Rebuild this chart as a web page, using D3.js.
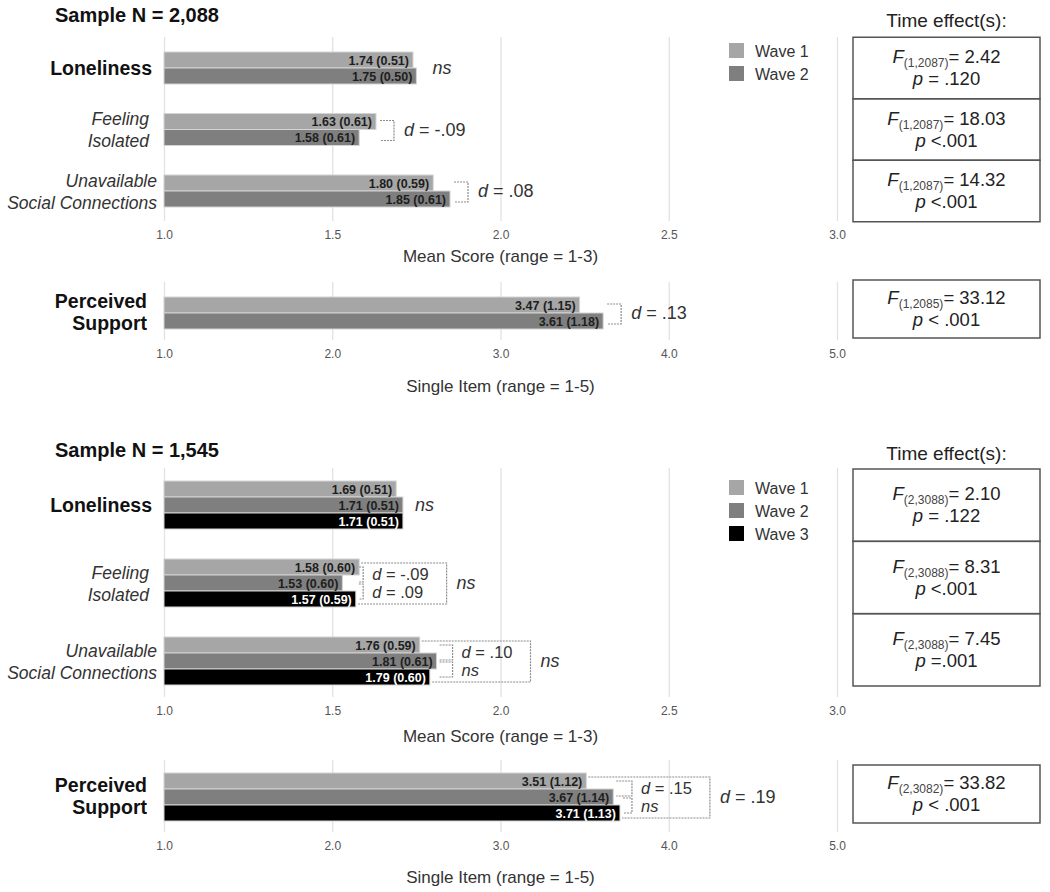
<!DOCTYPE html>
<html><head><meta charset="utf-8">
<script src="https://cdn.jsdelivr.net/npm/d3@7"></script>
<style>body{margin:0;background:#fff} svg{display:block;font-family:"Liberation Sans",Arial,sans-serif}</style>
</head><body><svg id="c" width="1050" height="892"></svg>
<script>
// ---------- data ----------
const waveNames = ["Wave 1", "Wave 2", "Wave 3"];
const waveColors = ["#a6a6a6", "#7f7f7f", "#000000"];
const categoryLines = [["Loneliness"], ["Feeling", "Isolated"], ["Unavailable", "Social Connections"]];
const supportLines = ["Perceived", "Support"];
const meanTicks = [1.0, 1.5, 2.0, 2.5, 3.0];
const supportTicks = [1, 2, 3, 4, 5];
const meanAxisTitle = "Mean Score (range = 1-3)";
const supportAxisTitle = "Single Item (range = 1-5)";
const effectsHeader = "Time effect(s):";

const sample1Title = "Sample N = 2,088";
const sample1Means = [[1.74, 1.75], [1.63, 1.58], [1.80, 1.85]];
const sample1SDs = [[0.51, 0.50], [0.61, 0.61], [0.59, 0.61]];
const sample1SupportMeans = [3.47, 3.61];
const sample1SupportSDs = [1.15, 1.18];
const sample1Overall = ["ns", null, null];
const sample1Pairs = [[], [[0, 1, "d = -.09"]], [[0, 1, "d = .08"]]];
const sample1SupportPairs = [[0, 1, "d = .13"]];
const sample1Df = ["1,2087", "1,2087", "1,2087", "1,2085"];
const sample1F = ["2.42", "18.03", "14.32", "33.12"];
const sample1P = ["p = .120", "p <.001", "p <.001", "p < .001"];

const sample2Title = "Sample N = 1,545";
const sample2Means = [[1.69, 1.71, 1.71], [1.58, 1.53, 1.57], [1.76, 1.81, 1.79]];
const sample2SDs = [[0.51, 0.51, 0.51], [0.60, 0.60, 0.59], [0.59, 0.61, 0.60]];
const sample2SupportMeans = [3.51, 3.67, 3.71];
const sample2SupportSDs = [1.12, 1.14, 1.13];
const sample2Overall = ["ns", "ns", "ns"];
const sample2Pairs = [[], [[0, 1, "d = -.09"], [1, 2, "d = .09"]], [[0, 1, "d = .10"], [1, 2, "ns"]]];
const sample2SupportPairs = [[0, 1, "d = .15"], [1, 2, "ns"]];
const sample2SupportOverall = "d = .19";
const sample2Df = ["2,3088", "2,3088", "2,3088", "2,3082"];
const sample2F = ["2.10", "8.31", "7.45", "33.82"];
const sample2P = ["p = .122", "p <.001", "p =.001", "p < .001"];

// ---------- drawing ----------
const svg = d3.select("#c");
const xMean = d3.scaleLinear().domain([1, 3]).range([164, 837]);
const xSup = d3.scaleLinear().domain([1, 5]).range([164, 837]);
const fmt1 = d3.format(".1f"), fmt2 = d3.format(".2f");

function gridAxis(x, ticks, yTop, yAxis, title, titleY) {
  const g = svg.append("g").attr("transform", `translate(0,${yAxis})`);
  g.call(d3.axisBottom(x).tickValues(ticks).tickFormat(fmt1).tickSize(-(yAxis - yTop)).tickPadding(9));
  g.select(".domain").remove();
  g.selectAll(".tick line").attr("stroke", "#e2e2e2").attr("stroke-width", 1.3);
  g.selectAll(".tick text").attr("fill", "#555").attr("font-size", 12).attr("font-family", '"Liberation Sans",Arial,sans-serif');
  svg.append("text").attr("x", d3.mean(x.range())).attr("y", titleY).attr("text-anchor", "middle")
    .attr("font-size", 17).attr("fill", "#333").text(title);
}

function annot(sel, label) {
  if (label === "ns") { sel.append("tspan").attr("font-style", "italic").text("ns"); }
  else if (label.startsWith("d")) {
    sel.append("tspan").attr("font-style", "italic").text("d");
    sel.append("tspan").text(label.slice(1));
  } else sel.text(label);
  return sel;
}

function drawGroup(x, cy, means, sds) {
  const n = means.length;
  const yb = d3.scaleBand().domain(d3.range(n)).range([cy - 8 * n, cy + 8 * n]);
  const g = svg.append("g");
  g.selectAll("rect").data(means).join("rect")
    .attr("x", x(1)).attr("y", (d, i) => yb(i)).attr("width", d => x(d) - x(1)).attr("height", yb.bandwidth())
    .attr("fill", (d, i) => waveColors[i]).attr("stroke", "#d4d4d4").attr("stroke-width", 1);
  g.selectAll("text").data(means).join("text")
    .attr("x", d => x(d) - 4).attr("y", (d, i) => yb(i) + yb.bandwidth() / 2 + 4.5)
    .attr("text-anchor", "end").attr("font-size", 12.5).attr("font-weight", "bold")
    .attr("fill", (d, i) => i === 2 ? "#fff" : "#1e1e1e")
    .text((d, i) => `${fmt2(d)} (${fmt2(sds[i])})`);
  const centers = means.map((d, i) => yb(i) + yb.bandwidth() / 2);
  const ends = means.map(d => x(d));
  return { centers, ends, maxEnd: d3.max(ends) };
}

function catLabel(lines, cy, xRight, bold) {
  const t = svg.append("text").attr("text-anchor", "end")
    .attr("font-size", bold ? 19.5 : 17.5).attr("font-weight", bold ? "bold" : "normal")
    .attr("font-style", bold ? "normal" : "italic").attr("fill", bold ? "#111" : "#333");
  const off = lines.length === 1 ? [0] : [-11, 11];
  lines.forEach((l, i) => t.append("tspan").attr("x", xRight).attr("y", cy + off[i] + 6.5).text(l));
}

function bracket(x0, xv, y1, y2) {
  svg.append("path").attr("d", `M${x0},${y1}H${xv}V${y2}H${x0}`)
    .attr("fill", "none").attr("stroke", "#8c8c8c").attr("stroke-width", 1.2).attr("stroke-dasharray", "2,1");
}

function annotText(xp, yp, label, size) {
  const fs = size || 18;
  return annot(svg.append("text").attr("x", xp).attr("y", yp + fs / 3).attr("font-size", fs).attr("fill", "#333"), label);
}

function twoWaveAnnot(info, pairs, overall, gap) {
  if (overall) annotText(info.maxEnd + 16, d3.mean(info.centers), overall);
  pairs.forEach(([a, b, lab]) => {
    const xv = info.maxEnd + gap;
    bracket(info.maxEnd + 4, xv, info.centers[a] - 1, info.centers[b] + 3);
    annotText(xv + 10, (info.centers[a] + info.centers[b]) / 2, lab);
  });
}

function threeWaveAnnot(info, pairs, overall, gap) {
  if (!pairs.length) { annotText(info.maxEnd + 12, d3.mean(info.centers), overall); return; }
  const xv = info.maxEnd + gap;
  let textEnd = 0;
  pairs.forEach(([a, b, lab]) => {
    const y1 = info.centers[a] + (a === 0 ? 0 : 1), y2 = info.centers[b] - (b === 2 ? 0 : 1);
    const x0 = Math.min(Math.max(info.ends[a], info.ends[b]) + 3, xv - 4);
    bracket(x0, xv, y1, y2);
    const t = annotText(xv + 9, (y1 + y2) / 2 + (a === 0 ? -0.5 : 1), lab, 16.5);
    textEnd = Math.max(textEnd, xv + 9 + t.node().getComputedTextLength());
  });
  const right = textEnd + 18;
  const yT = info.centers[0] - 4, yB = info.centers[2] + 5;
  svg.append("path").attr("d", `M${info.ends[0] + 2},${yT}H${right}V${yB}H${info.ends[2] + 2}`)
    .attr("fill", "none").attr("stroke", "#8c8c8c").attr("stroke-width", 1.2).attr("stroke-dasharray", "2,1");
  annotText(right + 10, d3.mean(info.centers), overall);
}

function legend(n, yTop) {
  const g = svg.append("g");
  d3.range(n).forEach(i => {
    g.append("rect").attr("x", 729).attr("y", yTop + i * 23).attr("width", 15).attr("height", 15).attr("fill", waveColors[i]);
    g.append("text").attr("x", 755).attr("y", yTop + i * 23 + 13.5).attr("font-size", 16).attr("fill", "#333").text(waveNames[i]);
  });
}

function effectBox(top, h, df, F, p) {
  svg.append("rect").attr("x", 853).attr("y", top).attr("width", 187).attr("height", h)
    .attr("fill", "none").attr("stroke", "#555").attr("stroke-width", 1.5);
  const cy = top + h / 2;
  const t = svg.append("text").attr("x", 946.5).attr("y", cy - 5).attr("text-anchor", "middle").attr("font-size", 18.5).attr("fill", "#222");
  t.append("tspan").attr("font-style", "italic").text("F");
  t.append("tspan").attr("font-size", 12).attr("dy", 4).attr("fill", "#444").text(`(${df})`);
  t.append("tspan").attr("dy", -4).text(`= ${F}`);
  const t2 = svg.append("text").attr("x", 946.5).attr("y", cy + 17).attr("text-anchor", "middle").attr("font-size", 18.5).attr("fill", "#222");
  t2.append("tspan").attr("font-style", "italic").text("p");
  t2.append("tspan").text(p.slice(1));
}

function title(txt, y) {
  svg.append("text").attr("x", 55).attr("y", y).attr("font-size", 20).attr("font-weight", "bold").attr("fill", "#111").text(txt);
}
function header(y) {
  svg.append("text").attr("x", 946.5).attr("y", y).attr("text-anchor", "middle").attr("font-size", 19).attr("fill", "#222").text(effectsHeader);
}

// ===== Sample 1 =====
title(sample1Title, 22);
header(27);
gridAxis(xMean, meanTicks, 37, 221, meanAxisTitle, 262);
const y1 = d3.scalePoint().domain(d3.range(3)).range([68, 191]);
sample1Means.forEach((m, i) => {
  const info = drawGroup(xMean, y1(i), m, sample1SDs[i]);
  catLabel(categoryLines[i], y1(i), i === 0 ? 152 : (i === 1 ? 149 : 157), i === 0);
  twoWaveAnnot(info, sample1Pairs[i], sample1Overall[i], 18);
});
legend(2, 43);
const step1 = y1.step();
sample1Means.forEach((m, i) => effectBox(y1(i) - step1 / 2, step1, sample1Df[i], sample1F[i], sample1P[i]));

gridAxis(xSup, supportTicks, 282, 340, supportAxisTitle, 392);
{
  const info = drawGroup(xSup, 313, sample1SupportMeans, sample1SupportSDs);
  catLabel(supportLines, 312, 147, true);
  twoWaveAnnot(info, sample1SupportPairs, null, 18);
}
effectBox(280, 58, sample1Df[3], sample1F[3], sample1P[3]);

// ===== Sample 2 =====
title(sample2Title, 457);
header(460);
gridAxis(xMean, meanTicks, 468, 697, meanAxisTitle, 742);
const y2 = d3.scalePoint().domain(d3.range(3)).range([505, 661]);
sample2Means.forEach((m, i) => {
  const info = drawGroup(xMean, y2(i), m, sample2SDs[i]);
  catLabel(categoryLines[i], y2(i), i === 0 ? 152 : (i === 1 ? 149 : 157), i === 0);
  threeWaveAnnot(info, sample2Pairs[i], sample2Overall[i], i === 1 ? 4 : 16);
});
legend(3, 480);
const boxTops2 = d3.scalePoint().domain(d3.range(4)).range([469, 686]);
sample2Means.forEach((m, i) => effectBox(boxTops2(i), boxTops2.step(), sample2Df[i], sample2F[i], sample2P[i]));

gridAxis(xSup, supportTicks, 760, 832, supportAxisTitle, 883);
{
  const info = drawGroup(xSup, 797, sample2SupportMeans, sample2SupportSDs);
  catLabel(supportLines, 796, 147, true);
  threeWaveAnnot(info, sample2SupportPairs, sample2SupportOverall, 12);
}
effectBox(765, 58, sample2Df[3], sample2F[3], sample2P[3]);
</script></body></html>
